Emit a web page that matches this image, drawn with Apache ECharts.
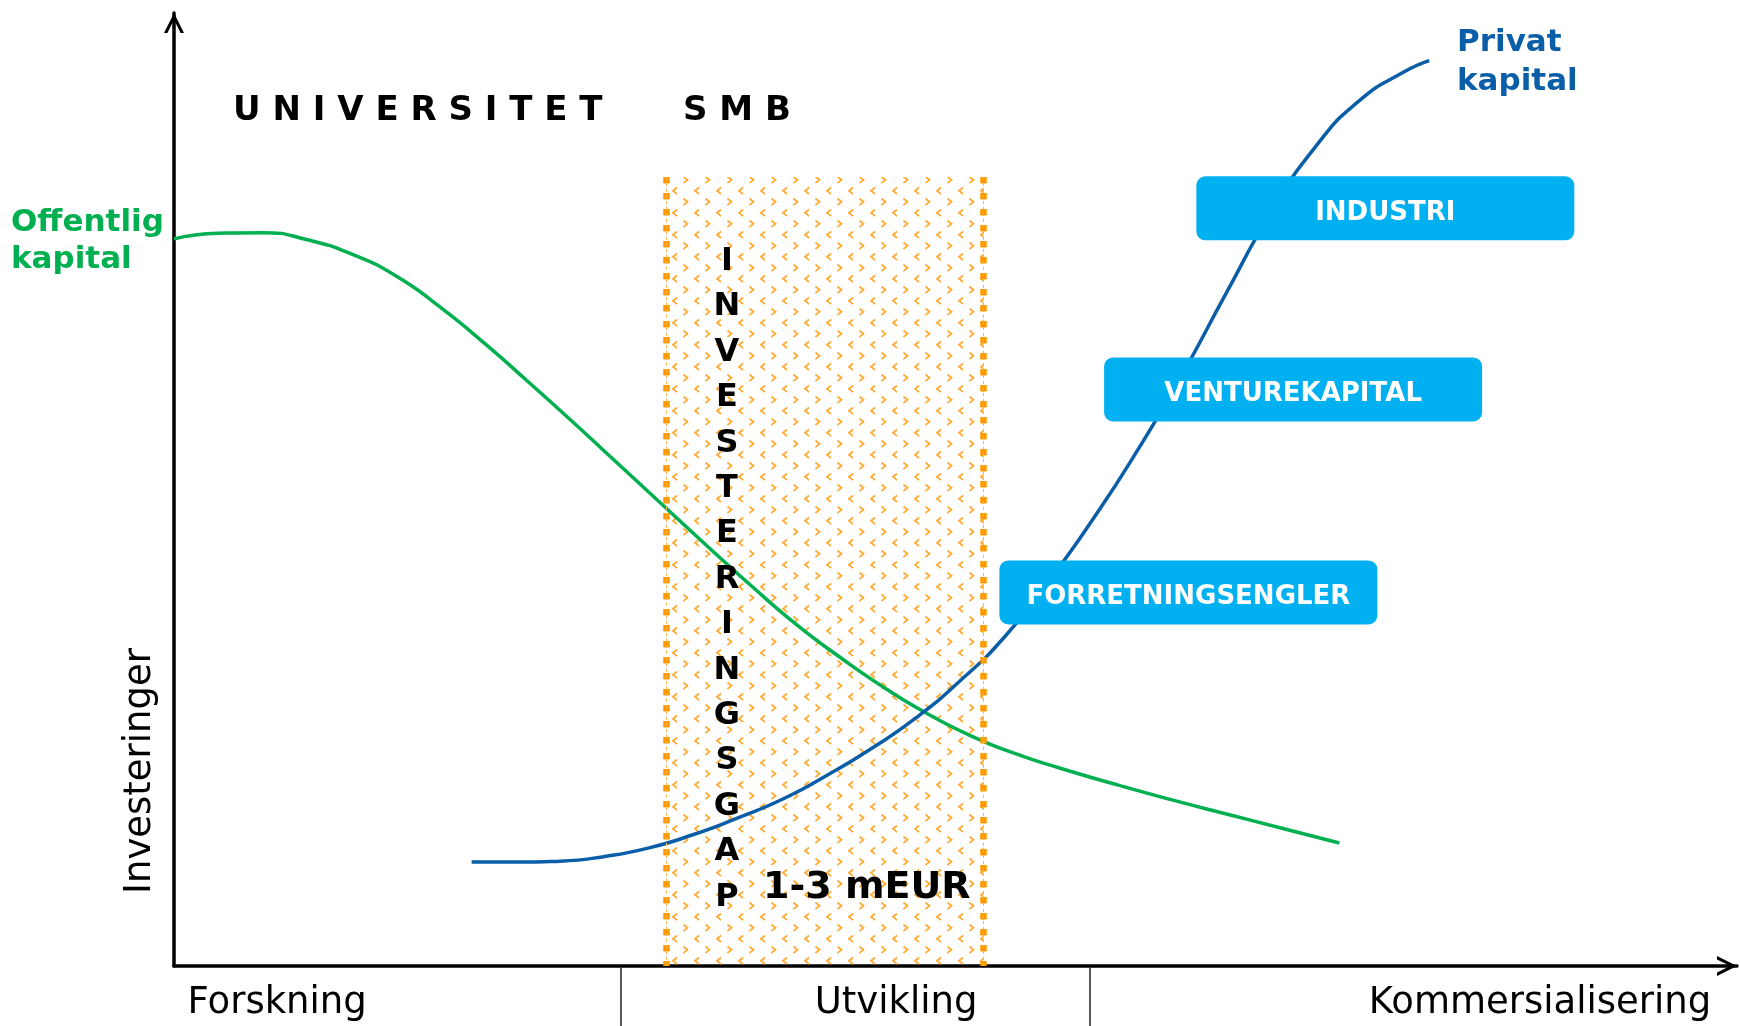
<!DOCTYPE html>
<html>
<head>
<meta charset="utf-8">
<script src="https://cdn.jsdelivr.net/npm/echarts@6/dist/echarts.min.js"></script>
<style>
  html, body { margin: 0; padding: 0; background: #fff; }
  #chart { width: 1740px; height: 1026px; }
</style>
</head>
<body>
<div id="chart"></div>
<script>
// stages along the x axis (0..100)
var stageNames = ['Forskning', 'Utvikling', 'Kommersialisering'];
var stageLabelAt = [6.6, 46.2, 87.4];
var stageBounds = [28.6, 58.6];

// investment curves, [stage, level] (0..100)
var offentligKapital = [
  [0, 76.3], [2.85, 76.9], [5.69, 76.95], [8.53, 76.2], [11.37, 74.7], [14.21, 72.4],
  [17.05, 69.1], [19.89, 65.3], [22.73, 61.2], [25.57, 57.0], [28.41, 52.7], [31.25, 48.4],
  [34.09, 44.1], [36.93, 39.9], [39.77, 35.9], [42.61, 32.4], [45.45, 29.2], [48.29, 26.4],
  [51.13, 24.05], [53.97, 22.2], [56.81, 20.7], [60.36, 19.0], [63.91, 17.4], [67.46, 15.9],
  [71.01, 14.4], [74.56, 12.9]
];
var privatKapital = [
  [19.04, 10.9], [21.88, 10.9], [24.72, 11.0], [27.56, 11.5], [30.40, 12.4], [33.24, 13.8],
  [36.08, 15.55], [38.92, 17.5], [41.76, 20.0], [44.60, 22.8], [47.44, 26.0], [50.28, 29.9],
  [53.12, 34.5], [55.96, 40.35], [58.80, 46.9], [61.64, 54.1], [64.48, 62.0], [67.32, 70.6],
  [70.16, 79.0], [73.00, 85.9], [75.84, 90.8], [78.68, 93.8], [80.31, 95.0]
];

// investment gap band
var gapFrom = 31.5, gapTo = 51.8, gapTop = 82.8;

// investor boxes
var investorNames = ['INDUSTRI', 'VENTUREKAPITAL', 'FORRETNINGSENGLER'];
var investorPos = [[77.5, 79.5], [71.6, 60.5], [64.9, 39.2]];

var gapLetters = 'INVESTERINGSGAP'.split('');

var FONT = '"DejaVu Sans", Verdana, sans-serif';
var GREEN = '#00B050', BLUE = '#0A5EA8', CYAN = '#00B0F0', ORANGE = '#FF9A00';

function gapPattern() {
  var c = document.createElement('canvas');
  c.width = 22; c.height = 22;
  var g = c.getContext('2d');
  g.strokeStyle = '#FFAA33';
  g.lineWidth = 1.8;
  g.lineCap = 'round';
  g.beginPath(); g.moveTo(2, 1); g.lineTo(5.5, 3.8); g.lineTo(2, 6.6); g.stroke();
  g.beginPath(); g.moveTo(16.5, 12); g.lineTo(13, 14.8); g.lineTo(16.5, 17.6); g.stroke();
  return c;
}

// open chevron used as arrow head
var chevron = 'path://M0,20 L10,0 L20,20 L16.6,20 L10,6.7 L3.4,20 Z';

var chart = echarts.init(document.getElementById('chart'));

var option = {
  animation: false,
  backgroundColor: '#fff',
  grid: { left: 174, right: 3, top: 13, bottom: 60, containLabel: false, outerBoundsMode: 'none' },
  xAxis: {
    type: 'value', min: 0, max: 100,
    splitLine: { show: false },
    axisLine: {
      lineStyle: { color: '#000', width: 3.5 },
      symbol: ['none', chevron], symbolSize: [21, 20], symbolOffset: [0, -10]
    },
    axisTick: {
      show: true, customValues: stageBounds, length: 60, inside: false,
      lineStyle: { color: '#222', width: 1.5 }
    },
    axisLabel: {
      show: true, customValues: stageLabelAt, margin: 19,
      color: '#000', fontSize: 37, fontFamily: FONT,
      formatter: function (v) {
        var best = 0;
        for (var i = 1; i < stageLabelAt.length; i++) {
          if (Math.abs(stageLabelAt[i] - v) < Math.abs(stageLabelAt[best] - v)) best = i;
        }
        return stageNames[best];
      }
    }
  },
  yAxis: {
    type: 'value', min: 0, max: 100,
    splitLine: { show: false },
    axisTick: { show: false },
    axisLabel: { show: false },
    axisLine: {
      show: true,
      lineStyle: { color: '#000', width: 3.5 },
      symbol: ['none', chevron], symbolSize: [21, 20], symbolOffset: [0, -10]
    }
  },
  series: [
    {
      name: 'gap', type: 'line', data: [], z: 1, silent: true,
      markArea: {
        silent: true,
        itemStyle: { color: { image: gapPattern(), repeat: 'repeat' }, borderWidth: 0 },
        data: [[{ xAxis: gapFrom, yAxis: 0 }, { xAxis: gapTo, yAxis: gapTop }]]
      },
      markLine: {
        silent: true, symbol: 'none', label: { show: false },
        lineStyle: { color: ORANGE, width: 6.5, type: [6.5, 9.5], opacity: 1 },
        data: [
          [{ coord: [gapFrom, gapTop] }, { coord: [gapFrom, 0] }],
          [{ coord: [gapTo, gapTop] }, { coord: [gapTo, 0] }]
        ]
      }
    },
    {
      name: 'gapEdge', type: 'line', data: [], z: 1, silent: true,
      markLine: {
        silent: true, symbol: 'none', label: { show: false },
        lineStyle: { color: '#FFB347', width: 1, type: [3, 3], opacity: 1 },
        data: [
          [{ coord: [gapFrom, gapTop] }, { coord: [gapFrom, 0] }],
          [{ coord: [gapTo, gapTop] }, { coord: [gapTo, 0] }]
        ]
      }
    },
    {
      name: 'Offentlig kapital', type: 'line', data: offentligKapital, z: 3,
      smooth: 0.55, showSymbol: false, silent: true,
      lineStyle: { color: GREEN, width: 3.5 }
    },
    {
      name: 'Privat kapital', type: 'line', data: privatKapital, z: 3,
      smooth: 0.55, showSymbol: false, silent: true,
      lineStyle: { color: BLUE, width: 3.5 }
    },
    {
      name: 'investorer', type: 'scatter', z: 5, silent: true,
      symbolSize: 1, itemStyle: { color: 'rgba(0,0,0,0)', opacity: 1 },
      data: investorNames.map(function (n, i) { return { name: n, value: investorPos[i] }; }),
      label: {
        show: true, position: 'inside', formatter: '{t|{b}}',
        backgroundColor: CYAN, borderRadius: 9,
        width: 378, height: 64, padding: 0,
        align: 'center', verticalAlign: 'middle',
        rich: {
          t: {
            color: '#fff', fontWeight: 'bold', fontSize: 26, fontFamily: FONT,
            lineHeight: 64, padding: [9, 0, 0, 0], align: 'center'
          }
        }
      }
    }
  ],
  graphic: [
    { type: 'text', z: 10, style: { text: 'U N I V E R S I T E T', x: 233, y: 111, verticalAlign: 'middle', font: 'bold 34px ' + FONT, fill: '#000' } },
    { type: 'text', z: 10, style: { text: 'S M B', x: 683, y: 111, verticalAlign: 'middle', font: 'bold 34px ' + FONT, fill: '#000' } },
    { type: 'text', z: 10, style: { text: gapLetters.join('\n'), x: 727, y: 579.5, align: 'center', verticalAlign: 'middle', lineHeight: 45.4, font: 'bold 32px ' + FONT, fill: '#000' } },
    { type: 'text', z: 10, style: { text: '1-3 mEUR', x: 763, y: 888, verticalAlign: 'middle', font: 'bold 38px ' + FONT, fill: '#000' } },
    { type: 'text', z: 10, style: { text: 'Offentlig\nkapital', x: 11, y: 241.5, verticalAlign: 'middle', lineHeight: 37, font: 'bold 31px ' + FONT, fill: GREEN } },
    { type: 'text', z: 10, style: { text: 'Privat\nkapital', x: 1457, y: 62.5, verticalAlign: 'middle', lineHeight: 39, font: 'bold 31px ' + FONT, fill: BLUE } },
    { type: 'text', z: 10, x: 140, y: 771, rotation: Math.PI / 2, style: { text: 'Investeringer', x: 0, y: 0, align: 'center', verticalAlign: 'middle', font: '37px ' + FONT, fill: '#000' } }
  ]
};

chart.setOption(option);
</script>
</body>
</html>
